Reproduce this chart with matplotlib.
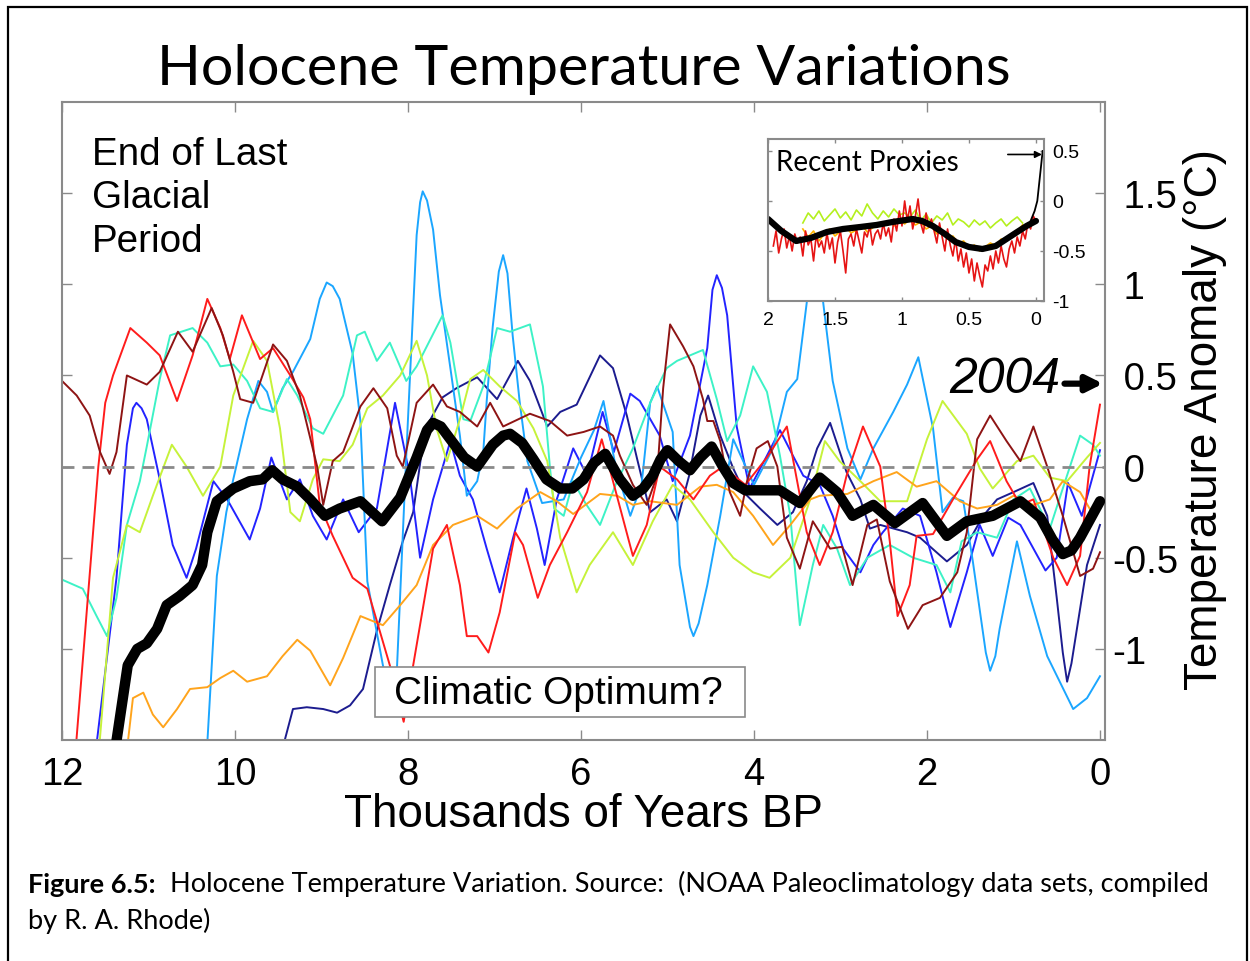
import numpy as np
import matplotlib
matplotlib.use('Agg')
from matplotlib import pyplot as plt
from matplotlib.patches import Rectangle
from matplotlib.text import Annotation

plt.rcParams['font.family'] = ['Liberation Sans', 'DejaVu Sans']

# (thousands of years BP, anomaly in deg C) for each proxy reconstruction
navy = [(9.48, -1.6), (9.33, -1.33), (9.17, -1.32), (8.98, -1.33), (8.82, -1.35), (8.67, -1.31),
        (8.52, -1.22), (8.36, -0.90), (8.21, -0.65), (8.06, -0.41), (7.94, -0.25), (7.85, 0.05),
        (7.75, 0.25), (7.60, 0.38), (7.44, 0.43), (7.20, 0.49), (6.97, 0.37), (6.73, 0.58),
        (6.59, 0.47), (6.39, 0.22), (6.24, 0.30), (6.05, 0.34), (5.78, 0.61), (5.63, 0.54),
        (5.47, 0.28), (5.35, 0.04), (5.20, -0.25), (5.01, -0.18), (4.89, -0.30), (4.75, -0.05),
        (4.62, 0.28), (4.53, 0.39), (4.39, 0.17), (4.24, -0.01), (4.10, -0.15), (3.93, -0.23),
        (3.73, -0.32), (3.55, -0.25), (3.39, -0.08), (3.27, 0.10), (3.12, 0.24), (2.93, -0.03),
        (2.77, -0.18), (2.66, -0.34), (2.54, -0.32), (2.23, -0.36), (2.08, -0.39), (1.89, -0.47),
        (1.77, -0.52), (1.54, -0.43), (1.35, -0.27), (1.19, -0.18), (1.00, -0.14), (0.77, -0.09),
        (0.61, -0.27), (0.50, -0.72), (0.43, -1.02), (0.38, -1.18), (0.33, -1.08), (0.27, -0.90),
        (0.15, -0.54), (0.00, -0.32)]

blue = [(11.62, -1.6), (11.37, -0.61), (11.25, 0.12), (11.18, 0.32), (11.14, 0.35), (11.08, 0.32),
        (11.02, 0.26), (10.87, -0.07), (10.72, -0.43), (10.56, -0.61), (10.45, -0.45), (10.25, -0.08),
        (10.09, -0.18), (9.83, -0.40), (9.71, -0.23), (9.58, 0.05), (9.40, -0.18), (9.25, -0.07),
        (9.10, -0.27), (8.94, -0.40), (8.75, -0.18), (8.57, -0.36), (8.36, -0.23), (8.15, 0.35),
        (7.98, -0.05), (7.86, -0.50), (7.71, -0.18), (7.51, 0.14), (7.40, -0.05), (7.25, -0.18),
        (7.09, -0.45), (6.94, -0.69), (6.79, -0.40), (6.63, -0.12), (6.51, -0.34), (6.42, -0.54),
        (6.28, -0.18), (6.09, 0.10), (5.93, -0.05), (5.75, 0.30), (5.62, 0.08), (5.43, 0.40),
        (5.32, 0.36), (5.09, 0.17), (4.94, -0.08), (4.74, 0.17), (4.54, 0.65), (4.48, 0.97),
        (4.43, 1.05), (4.37, 0.98), (4.31, 0.83), (4.20, 0.22), (4.05, -0.12), (3.85, 0.06),
        (3.70, 0.20), (3.55, 0.06), (3.43, -0.05), (3.24, -0.10), (3.09, -0.27), (2.97, -0.45),
        (2.77, -0.58), (2.62, -0.43), (2.51, -0.36), (2.28, -0.23), (2.08, -0.27), (1.89, -0.58),
        (1.73, -0.88), (1.54, -0.58), (1.39, -0.32), (1.24, -0.49), (1.06, -0.28), (0.92, -0.32),
        (0.63, -0.57), (0.50, -0.50), (0.37, -0.09), (0.21, -0.27), (0.00, 0.09)]

skyblue = [(10.33, -1.6), (10.21, -0.60), (10.10, -0.25), (10.02, -0.07), (9.86, 0.26), (9.73, 0.47),
           (9.63, 0.41), (9.56, 0.30), (9.45, 0.43), (9.33, 0.52), (9.13, 0.70), (9.02, 0.92),
           (8.94, 1.01), (8.87, 0.99), (8.79, 0.92), (8.64, 0.62), (8.55, 0.25), (8.47, -0.63),
           (8.29, -1.09), (8.15, -1.35), (8.02, 0.06), (7.90, 1.27), (7.86, 1.45), (7.83, 1.51),
           (7.78, 1.46), (7.71, 1.30), (7.63, 0.94), (7.51, 0.54), (7.40, 0.17), (7.32, -0.16),
           (7.20, -0.08), (7.13, 0.08), (7.09, 0.36), (7.02, 0.77), (6.95, 1.07), (6.90, 1.16),
           (6.85, 1.06), (6.79, 0.72), (6.71, 0.36), (6.62, 0.03), (6.45, -0.20), (6.20, -0.18),
           (6.00, 0.05), (5.85, 0.20), (5.74, 0.36), (5.60, 0.00), (5.43, -0.27), (5.30, -0.10),
           (5.20, 0.35), (5.12, 0.44), (4.94, 0.19), (4.86, -0.54), (4.74, -0.88), (4.70, -0.93),
           (4.64, -0.86), (4.54, -0.65), (4.39, -0.27), (4.24, 0.15), (4.00, -0.10), (3.78, 0.10),
           (3.62, 0.41), (3.50, 0.48), (3.39, 0.90), (3.33, 1.60), (3.25, 1.60), (3.20, 0.90),
           (3.09, 0.47), (2.92, 0.10), (2.77, -0.07), (2.62, 0.10), (2.39, 0.30), (2.23, 0.45),
           (2.10, 0.60), (1.93, 0.21), (1.82, -0.25), (1.70, -0.17), (1.58, -0.19), (1.47, -0.52),
           (1.32, -1.02), (1.27, -1.12), (1.21, -1.04), (1.16, -0.89), (0.96, -0.41), (0.81, -0.71),
           (0.61, -1.04), (0.31, -1.33), (0.15, -1.27), (0.00, -1.15)]

aqua = [(12.00, -0.62), (11.76, -0.67), (11.60, -0.82), (11.48, -0.93), (11.37, -0.72), (11.25, -0.32),
        (11.10, -0.08), (11.02, 0.11), (10.87, 0.48), (10.75, 0.72), (10.49, 0.76), (10.32, 0.68),
        (10.17, 0.55), (10.02, 0.56), (9.86, 0.47), (9.71, 0.32), (9.56, 0.30), (9.40, 0.48),
        (9.28, 0.39), (9.10, 0.21), (8.98, 0.18), (8.75, 0.39), (8.59, 0.72), (8.50, 0.74),
        (8.36, 0.58), (8.21, 0.68), (8.02, 0.47), (7.90, 0.55), (7.60, 0.83), (7.51, 0.68),
        (7.36, 0.26), (7.28, 0.25), (7.13, 0.44), (6.97, 0.76), (6.82, 0.74), (6.59, 0.78),
        (6.44, 0.44), (6.36, 0.00), (6.31, -0.23), (6.20, -0.27), (6.09, -0.08), (5.95, -0.20),
        (5.78, -0.32), (5.60, -0.10), (5.40, 0.10), (5.20, 0.35), (5.01, 0.54), (4.89, 0.58),
        (4.74, 0.61), (4.59, 0.64), (4.43, 0.37), (4.31, 0.14), (4.16, 0.28), (4.01, 0.55),
        (3.85, 0.41), (3.70, 0.06), (3.58, -0.27), (3.47, -0.87), (3.32, -0.54), (3.20, -0.32),
        (3.04, -0.45), (2.89, -0.65), (2.69, -0.50), (2.43, -0.43), (2.16, -0.50), (1.89, -0.54),
        (1.73, -0.69), (1.60, -0.41), (1.42, -0.36), (1.19, -0.39), (1.00, -0.18), (0.81, -0.12),
        (0.58, -0.34), (0.43, -0.12), (0.23, 0.17), (0.08, 0.12), (0.00, 0.06)]

lime = [(11.58, -1.6), (11.41, -0.61), (11.25, -0.32), (11.10, -0.36), (10.95, -0.16), (10.73, 0.12),
        (10.56, 0.00), (10.37, -0.16), (10.17, 0.00), (10.02, 0.39), (9.79, 0.69), (9.63, 0.58),
        (9.48, 0.21), (9.36, -0.25), (9.25, -0.30), (9.10, -0.07), (8.98, 0.04), (8.79, 0.03),
        (8.64, 0.12), (8.47, 0.32), (8.29, 0.39), (8.09, 0.50), (7.90, 0.69), (7.78, 0.50),
        (7.67, 0.21), (7.55, 0.03), (7.40, 0.26), (7.28, 0.48), (7.13, 0.53), (6.94, 0.44),
        (6.74, 0.36), (6.55, 0.21), (6.39, 0.03), (6.24, -0.39), (6.05, -0.69), (5.90, -0.54),
        (5.63, -0.36), (5.40, -0.54), (5.17, -0.30), (4.94, -0.10), (4.74, -0.18), (4.47, -0.36),
        (4.24, -0.50), (4.01, -0.58), (3.82, -0.61), (3.58, -0.50), (3.35, -0.18), (3.18, 0.14),
        (3.01, 0.03), (2.77, -0.08), (2.54, -0.19), (2.23, -0.19), (2.00, 0.15), (1.82, 0.36),
        (1.54, 0.18), (1.39, -0.01), (1.24, -0.12), (0.96, 0.03), (0.77, 0.06), (0.58, -0.06),
        (0.38, -0.08), (0.15, 0.05), (0.00, 0.13)]

orange = [(11.26, -1.6), (11.18, -1.27), (11.06, -1.24), (10.95, -1.36), (10.83, -1.43), (10.67, -1.33),
          (10.52, -1.22), (10.32, -1.21), (10.17, -1.16), (10.02, -1.12), (9.86, -1.18), (9.63, -1.15),
          (9.45, -1.04), (9.28, -0.95), (9.13, -1.01), (8.90, -1.20), (8.75, -1.05), (8.55, -0.82),
          (8.29, -0.87), (8.09, -0.76), (7.90, -0.65), (7.71, -0.43), (7.48, -0.32), (7.20, -0.27),
          (6.97, -0.34), (6.74, -0.23), (6.47, -0.14), (6.28, -0.19), (6.09, -0.26), (5.78, -0.15),
          (5.58, -0.16), (5.40, -0.21), (5.20, -0.19), (4.89, -0.21), (4.62, -0.11), (4.43, -0.10),
          (4.24, -0.14), (4.01, -0.27), (3.78, -0.43), (3.58, -0.32), (3.35, -0.18), (3.24, -0.16),
          (2.92, -0.15), (2.62, -0.08), (2.35, -0.03), (2.12, -0.11), (1.89, -0.08), (1.62, -0.19),
          (1.42, -0.23), (1.19, -0.21), (1.00, -0.16), (0.77, -0.21), (0.58, -0.18), (0.43, -0.08),
          (0.23, -0.14), (0.12, -0.23)]

red = [(11.85, -1.6), (11.58, 0.00), (11.50, 0.35), (11.41, 0.50), (11.21, 0.76), (11.02, 0.68),
       (10.87, 0.61), (10.67, 0.36), (10.49, 0.61), (10.32, 0.92), (10.17, 0.76), (10.06, 0.59),
       (9.92, 0.83), (9.71, 0.59), (9.56, 0.65), (9.36, 0.50), (9.21, 0.38), (9.13, 0.26),
       (9.02, -0.21), (8.87, -0.38), (8.64, -0.61), (8.47, -0.67), (8.21, -1.09), (8.05, -1.40),
       (7.94, -1.09), (7.71, -0.45), (7.55, -0.32), (7.40, -0.65), (7.32, -0.93), (7.20, -0.93),
       (7.07, -1.02), (6.94, -0.80), (6.76, -0.36), (6.67, -0.43), (6.50, -0.72), (6.36, -0.54),
       (6.16, -0.36), (5.93, -0.14), (5.76, 0.15), (5.63, -0.08), (5.40, -0.49), (5.24, -0.32),
       (5.09, 0.00), (4.89, -0.07), (4.70, -0.18), (4.51, -0.05), (4.36, 0.00), (4.10, -0.10),
       (3.85, 0.05), (3.62, 0.22), (3.39, -0.36), (3.24, -0.54), (3.09, -0.36), (2.93, -0.05),
       (2.74, 0.22), (2.54, 0.00), (2.43, -0.41), (2.34, -0.82), (2.20, -0.65), (2.12, -0.38),
       (1.93, -0.37), (1.70, -0.18), (1.42, 0.04), (1.27, 0.14), (1.08, -0.08), (0.92, -0.21),
       (0.77, -0.18), (0.54, -0.50), (0.38, -0.65), (0.23, -0.49), (0.12, 0.00), (0.00, 0.34)]

darkred = [(12.00, 0.47), (11.83, 0.39), (11.68, 0.28), (11.56, 0.08), (11.45, -0.04), (11.37, 0.08),
           (11.25, 0.50), (11.02, 0.45), (10.87, 0.52), (10.66, 0.74), (10.49, 0.63), (10.27, 0.87),
           (10.14, 0.72), (10.02, 0.52), (9.94, 0.37), (9.79, 0.35), (9.56, 0.67), (9.40, 0.58),
           (9.25, 0.39), (9.05, 0.00), (8.98, -0.21), (8.87, 0.03), (8.75, 0.08), (8.55, 0.33),
           (8.40, 0.43), (8.24, 0.32), (8.13, 0.06), (8.06, 0.00), (7.90, 0.35), (7.71, 0.45),
           (7.55, 0.33), (7.40, 0.30), (7.20, 0.22), (7.05, 0.35), (6.90, 0.22), (6.59, 0.29),
           (6.36, 0.25), (6.16, 0.17), (5.97, 0.19), (5.78, 0.22), (5.63, 0.17), (5.55, 0.06),
           (5.40, -0.10), (5.24, -0.21), (5.12, -0.05), (5.05, 0.43), (4.97, 0.78), (4.82, 0.66),
           (4.70, 0.55), (4.59, 0.37), (4.54, 0.25), (4.47, 0.25), (4.39, 0.14), (4.28, -0.14),
           (4.16, -0.27), (4.08, -0.08), (3.97, 0.10), (3.84, 0.14), (3.73, 0.00), (3.62, -0.39),
           (3.47, -0.56), (3.32, -0.30), (3.12, -0.45), (2.98, -0.44), (2.86, -0.65), (2.69, -0.32),
           (2.58, -0.29), (2.43, -0.63), (2.22, -0.89), (2.05, -0.76), (1.85, -0.72), (1.65, -0.58),
           (1.54, -0.36), (1.42, 0.15), (1.27, 0.28), (1.08, 0.14), (0.92, 0.03), (0.77, 0.22),
           (0.61, 0.00), (0.43, -0.27), (0.23, -0.60), (0.08, -0.56), (0.00, -0.47)]

# average of all reconstructions
mean = [(11.40, -1.6), (11.24, -1.09), (11.13, -1.00), (11.02, -0.97), (10.90, -0.89), (10.79, -0.76),
        (10.64, -0.71), (10.49, -0.65), (10.38, -0.54), (10.32, -0.36), (10.21, -0.19), (10.02, -0.12),
        (9.83, -0.08), (9.68, -0.07), (9.57, -0.02), (9.45, -0.07), (9.28, -0.11), (9.13, -0.18),
        (8.96, -0.27), (8.79, -0.23), (8.55, -0.19), (8.30, -0.30), (8.09, -0.17), (7.90, 0.05),
        (7.78, 0.20), (7.71, 0.24), (7.62, 0.22), (7.51, 0.15), (7.35, 0.05), (7.20, 0.00),
        (7.02, 0.12), (6.90, 0.17), (6.82, 0.18), (6.68, 0.13), (6.55, 0.04), (6.40, -0.07),
        (6.24, -0.12), (6.10, -0.12), (5.97, -0.07), (5.85, 0.02), (5.72, 0.07), (5.55, -0.07),
        (5.40, -0.16), (5.28, -0.12), (5.17, -0.05), (5.08, 0.04), (5.00, 0.09), (4.87, 0.03),
        (4.74, -0.02), (4.62, 0.05), (4.49, 0.11), (4.36, 0.00), (4.24, -0.09), (4.10, -0.13),
        (3.97, -0.13), (3.70, -0.13), (3.47, -0.20), (3.24, -0.06), (3.04, -0.14), (2.86, -0.27),
        (2.62, -0.21), (2.37, -0.31), (2.05, -0.20), (1.77, -0.38), (1.54, -0.30), (1.24, -0.27),
        (0.92, -0.19), (0.69, -0.28), (0.55, -0.40), (0.43, -0.48), (0.33, -0.46), (0.23, -0.39),
        (0.00, -0.19)]

series = [(navy, '#1c1c8f'), (blue, '#2323ff'), (skyblue, '#1ba6ff'), (aqua, '#3df2c6'),
          (lime, '#c6f23a'), (orange, '#ffa41c'), (red, '#ff1c1c'), (darkred, '#8e1414')]

xticks = [0, 2, 4, 6, 8, 10, 12]
yticks = [-1, -0.5, 0, 0.5, 1, 1.5]
ytick_labels = ['-1', '-0.5', ' 0', ' 0.5', ' 1', ' 1.5']

# inset: last two thousand years
rp_red_t = np.round(np.arange(1.96, -0.001, -0.02), 2)
rp_red = [-0.45, -0.30, -0.52, -0.38, -0.28, -0.47, -0.35, -0.50, -0.33, -0.42,
          -0.36, -0.55, -0.30, -0.44, -0.38, -0.60, -0.34, -0.46, -0.40, -0.52,
          -0.32, -0.48, -0.37, -0.62, -0.41, -0.30, -0.50, -0.72, -0.38, -0.33,
          -0.45, -0.28, -0.40, -0.52, -0.31, -0.36, -0.25, -0.44, -0.33, -0.29,
          -0.38, -0.22, -0.35, -0.27, -0.41, -0.18, -0.30, -0.10, -0.25, 0.00,
          -0.20, -0.05, -0.28, -0.15, 0.02, -0.22, -0.32, -0.12, -0.26, -0.18,
          -0.30, -0.42, -0.22, -0.36, -0.50, -0.28, -0.44, -0.55, -0.38, -0.60,
          -0.48, -0.66, -0.52, -0.72, -0.58, -0.80, -0.62, -0.75, -0.86, -0.64,
          -0.70, -0.55, -0.68, -0.50, -0.62, -0.45, -0.58, -0.66, -0.48, -0.40,
          -0.52, -0.36, -0.45, -0.30, -0.38, -0.22, -0.28, -0.15, -0.20]
rp_t = np.round(np.arange(1.74, 0.099, -0.04), 2)
rp_lime = [-0.22, -0.12, -0.18, -0.10, -0.20, -0.14, -0.08, -0.17, -0.11, -0.19,
           -0.09, -0.15, -0.03, -0.12, -0.18, -0.10, -0.16, -0.08, -0.14, -0.12,
           -0.16, -0.09, -0.20, -0.13, -0.22, -0.15, -0.19, -0.12, -0.24, -0.18,
           -0.21, -0.26, -0.19, -0.24, -0.20, -0.27, -0.22, -0.18, -0.25, -0.20,
           -0.16, -0.22]
rp_orange = [-0.28, -0.36, -0.30, -0.40, -0.33, -0.28, -0.35, -0.30, -0.26, -0.32,
             -0.29, -0.24, -0.31, -0.27, -0.22, -0.26, -0.20, -0.25, -0.19, -0.23,
             -0.18, -0.24, -0.21, -0.28, -0.25, -0.33, -0.30, -0.38, -0.35, -0.42,
             -0.40, -0.47, -0.44, -0.50, -0.46, -0.42, -0.45, -0.38, -0.40, -0.33,
             -0.30, -0.24]
rp_mean = [(2.00, -0.18), (1.90, -0.30), (1.79, -0.40), (1.68, -0.37), (1.56, -0.31), (1.44, -0.28),
           (1.31, -0.26), (1.19, -0.24), (1.07, -0.21), (0.92, -0.18), (0.85, -0.20), (0.77, -0.25),
           (0.68, -0.33), (0.60, -0.41), (0.50, -0.46), (0.40, -0.48), (0.30, -0.45), (0.22, -0.38),
           (0.14, -0.31), (0.07, -0.25), (0.00, -0.20)]
instrumental = [(0.04, -0.20), (0.01, -0.10), (-0.01, 0.00), (-0.03, 0.25), (-0.05, 0.50)]
inset_xticks = [2, 1.5, 1, 0.5, 0]
inset_xlabels = ['2', '1.5', '1', '0.5', '0']
inset_yticks = [-1, -0.5, 0, 0.5]
inset_ylabels = ['-1', '-0.5', '0', '0.5']

grey = '#8a8a8a'
sans = ['Lato', 'DejaVu Sans']

fig = plt.figure(figsize=(12.5, 9.62), dpi=100)
ax = fig.add_axes([0.0496, 0.2297, 0.8344, 0.6632])

ax.axhline(0, color=grey, lw=2, dashes=(4.3, 2.9), zorder=3)
for pts, col in series:
    t, v = np.array(pts).T
    ax.plot(t, v, color=col, lw=1.4, solid_joinstyle='round', zorder=2)
t, v = np.array(mean).T
ax.plot(t, v, color='black', lw=7.5, solid_joinstyle='round', solid_capstyle='round', zorder=4)

ax.set_xlim(12.0, -0.058)
ax.set_ylim(-1.5, 2.0)
ax.set_xticks(xticks)
ax.set_xticklabels([str(x) for x in xticks])
ax.set_yticks(yticks)
ax.set_yticklabels(ytick_labels)
ax.tick_params(direction='in', length=7, width=1, color=grey, labelsize=27.5,
               top=True, right=True, left=True, labelleft=False, labelright=True)
ax.tick_params(axis='x', pad=11.5)
ax.tick_params(axis='y', pad=5.5)
for sp in ax.spines.values():
    sp.set_color(grey)
    sp.set_linewidth(1.5)

ax.set_title('Holocene Temperature Variations', fontsize=41.3, family=sans, pad=13)
ax.set_xlabel('Thousands of Years BP', fontsize=33, labelpad=0)
fig.text(1205 / 1250, 1 - 420 / 962, 'Temperature Anomaly (°C)', rotation=90,
         fontsize=33, ha='center', va='center')

ax.text(0.0288, 0.947, 'End of Last\nGlacial\nPeriod', transform=ax.transAxes,
        fontsize=27.8, linespacing=1.27, ha='left', va='top')

ax.add_patch(Rectangle((0.300, 0.036), 0.355, 0.0784, transform=ax.transAxes,
                       facecolor='white', edgecolor=grey, lw=1.2, zorder=6))
ax.text(0.4755, 0.0737, 'Climatic Optimum?', transform=ax.transAxes, fontsize=28,
        ha='center', va='center', zorder=7)

ax.text(0.46, 0.48, '2004', fontsize=36, style='italic', ha='right', va='center', zorder=7)
ax.annotate('', xy=(-0.035, 0.455), xytext=(0.41, 0.455),
            arrowprops=dict(arrowstyle='-|>', color='black', lw=4.5, mutation_scale=24,
                            shrinkA=0, shrinkB=0), zorder=7)

# inset
axin = fig.add_axes([0.6144, 0.6861, 0.2208, 0.1684])
axin.set_zorder(5)
axin.set_facecolor('white')
axin.plot(rp_t, rp_lime, color='#b4f01e', lw=1.2)
axin.plot(rp_t, rp_orange, color='#ffb400', lw=1.2)
axin.plot(rp_red_t, rp_red, color='#e61414', lw=1.2)
t, v = np.array(rp_mean).T
axin.plot(t, v, color='black', lw=4.5, solid_capstyle='round')
t, v = np.array(instrumental).T
axin.plot(t, v, color='black', lw=1.3)
axin.annotate('', xy=(-0.045, 0.465), xytext=(0.21, 0.465),
              arrowprops=dict(arrowstyle='-|>', color='black', lw=1.2, mutation_scale=10,
                              shrinkA=0, shrinkB=0))
axin.set_xlim(2.0, -0.06)
axin.set_ylim(-1.0, 0.62)
axin.set_xticks(inset_xticks)
axin.set_xticklabels(inset_xlabels)
axin.set_yticks(inset_yticks)
axin.set_yticklabels(inset_ylabels)
axin.tick_params(direction='in', length=3, width=1, color=grey, labelsize=14,
                 top=True, right=True, left=True, labelleft=False, labelright=True)
axin.tick_params(axis='x', pad=7)
axin.tick_params(axis='y', pad=6)
for sp in axin.spines.values():
    sp.set_color(grey)
    sp.set_linewidth(1.5)
axin.text(0.029, 0.94, 'Recent Proxies', transform=axin.transAxes, fontsize=20,
          family=sans, ha='left', va='top')

# caption below the figure
cap = fig.text(28 / 1250, 1 - 893 / 962, 'Figure 6.5:', fontsize=19.5, weight='bold',
               family=sans, va='baseline')
fig.add_artist(Annotation('  Holocene Temperature Variation. Source:  (NOAA Paleoclimatology data sets, compiled',
                          xy=(1, 0), xycoords=cap, ha='left', va='bottom', fontsize=19.5,
                          family=sans))
fig.text(28 / 1250, 1 - 929 / 962, 'by R. A. Rhode)', fontsize=19.5, family=sans, va='baseline')

fig.add_artist(Rectangle((8 / 1250, -0.02), 1239 / 1250, 1 - 8 / 962 + 0.02,
                         transform=fig.transFigure, fill=False, edgecolor='black', lw=1.6))

fig.savefig('out.png', dpi=100)
